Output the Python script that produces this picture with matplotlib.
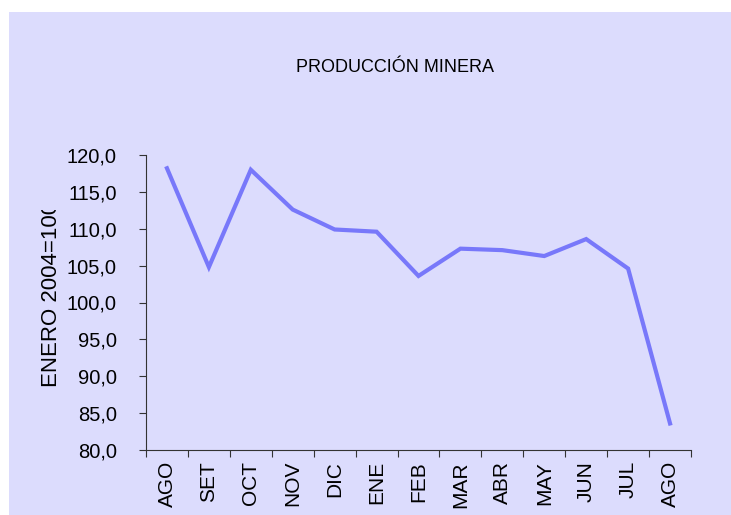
import matplotlib.pyplot as plt
from matplotlib.patches import Rectangle
from matplotlib.transforms import Bbox

months = ['AGO', 'SET', 'OCT', 'NOV', 'DIC', 'ENE', 'FEB', 'MAR', 'ABR', 'MAY', 'JUN', 'JUL', 'AGO']
values = [118.2, 104.8, 118.0, 112.6, 109.9, 109.6, 103.6, 107.3, 107.1, 106.3, 108.6, 104.6, 83.6]

plt.rcParams['font.family'] = ['Liberation Sans', 'DejaVu Sans']
bg = '#dcdcfd'

fig = plt.figure(figsize=(7.31, 5.15), dpi=100)
fig.patch.set_facecolor('white')
fig.patches.append(Rectangle((9 / 731, 0), 1, 1 - 12 / 515, transform=fig.transFigure,
                             facecolor=bg, edgecolor='none', zorder=-10))

ax = fig.add_axes([146 / 731, 65 / 515, 545 / 731, 295 / 515])
ax.set_facecolor('none')

x = [i + 0.5 for i in range(len(months))]
ax.plot(x, values, color='#7878fa', lw=3, solid_joinstyle='miter')

ax.set_xlim(0, len(months))
ax.set_ylim(80, 120)
ax.set_yticks(range(80, 121, 5))
ax.set_yticklabels([f'{v},0' for v in range(80, 121, 5)], fontsize=14.5)
ax.set_xticks(range(len(months) + 1))
ax.set_xticklabels([])
ax.set_xticks(x, minor=True)
ax.set_xticklabels(months, minor=True, rotation=90, fontsize=15)
ax.tick_params(axis='x', which='minor', length=0, pad=8)
ax.tick_params(axis='both', which='major', length=5, color='#333333', direction='out')
ax.tick_params(axis='y', pad=16)
for s in ['top', 'right']:
    ax.spines[s].set_visible(False)
for s in ['left', 'bottom']:
    ax.spines[s].set_color('#333333')

fig.text(395 / 731, 1 - 68 / 515, 'PRODUCCIÓN MINERA', ha='center', va='center',
         fontsize=13)
yl = fig.text(52 / 731, 1 - 294 / 515, 'ENERO 2004=100', rotation=90,
              ha='center', va='center', fontsize=16)
yl.set_clip_box(Bbox.from_extents(0, 0, 731, 515 - 210))
yl.set_clip_on(True)

plt.savefig('out.png', dpi=100)
